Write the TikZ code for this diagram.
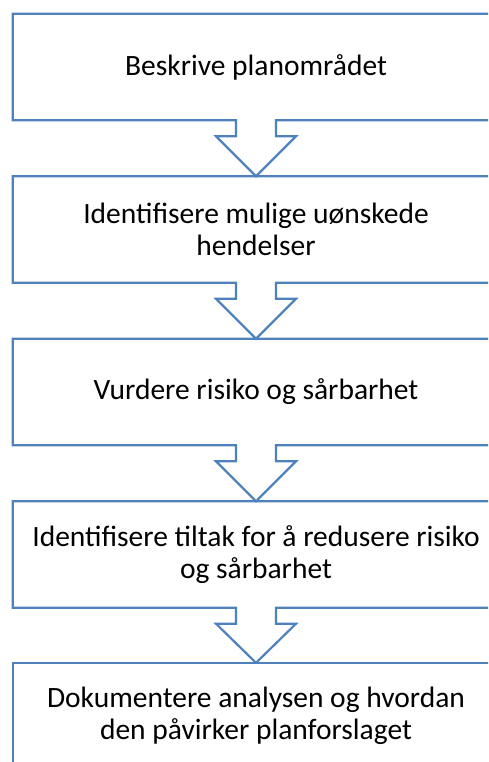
\documentclass[tikz,border=0pt]{standalone}
\usepackage{fontspec}
\setmainfont{Carlito}
\usepackage{tikz}
\usetikzlibrary{calc}
\definecolor{flowblue}{RGB}{79,129,189}

\begin{document}
\begin{tikzpicture}[x=1pt, y=-1pt,
    stepbox/.style={minimum width=486pt, minimum height=106pt, inner sep=0pt, align=center, font=\fontsize{29.5}{32.5}\selectfont},
    outline/.style={flowblue, line width=2.2pt, line join=miter}]
    \useasboundingbox (0,0) rectangle (488,762);
    \clip (0,0) rectangle (488,762);

    \node[stepbox] (plan) at (256,67) {Beskrive planområdet};
    \node[stepbox] (hendelser) at (256,229.5) {Identifisere mulige uønskede\\hendelser};
    \node[stepbox] (risiko) at (256,392) {Vurdere risiko og sårbarhet};
    \node[stepbox] (tiltak) at (256,554.5) {Identifisere tiltak for å redusere risiko\\og sårbarhet};
    \node[stepbox] (dok) at (256,716) {Dokumentere analysen og hvordan\\den påvirker planforslaget};

    % box outlines with the arrow to the next step
    \draw[outline] (plan.north west) -- (plan.north east) -- (plan.south east) -- ($(plan.south)+(20,0)$) -- ($(plan.south)+(20,16)$) -- ($(plan.south)+(40,16)$) -- (hendelser.north) -- ($(plan.south)+(-40,16)$) -- ($(plan.south)+(-20,16)$) -- ($(plan.south)+(-20,0)$) -- (plan.south west) -- cycle;
    \draw[outline] (hendelser.north west) -- (hendelser.north east) -- (hendelser.south east) -- ($(hendelser.south)+(20,0)$) -- ($(hendelser.south)+(20,16)$) -- ($(hendelser.south)+(40,16)$) -- (risiko.north) -- ($(hendelser.south)+(-40,16)$) -- ($(hendelser.south)+(-20,16)$) -- ($(hendelser.south)+(-20,0)$) -- (hendelser.south west) -- cycle;
    \draw[outline] (risiko.north west) -- (risiko.north east) -- (risiko.south east) -- ($(risiko.south)+(20,0)$) -- ($(risiko.south)+(20,16)$) -- ($(risiko.south)+(40,16)$) -- (tiltak.north) -- ($(risiko.south)+(-40,16)$) -- ($(risiko.south)+(-20,16)$) -- ($(risiko.south)+(-20,0)$) -- (risiko.south west) -- cycle;
    \draw[outline] (tiltak.north west) -- (tiltak.north east) -- (tiltak.south east) -- ($(tiltak.south)+(20,0)$) -- ($(tiltak.south)+(20,16)$) -- ($(tiltak.south)+(40,16)$) -- (dok.north) -- ($(tiltak.south)+(-40,16)$) -- ($(tiltak.south)+(-20,16)$) -- ($(tiltak.south)+(-20,0)$) -- (tiltak.south west) -- cycle;
    \draw[outline] (dok.south west) rectangle (dok.north east);
\end{tikzpicture}
\end{document}
